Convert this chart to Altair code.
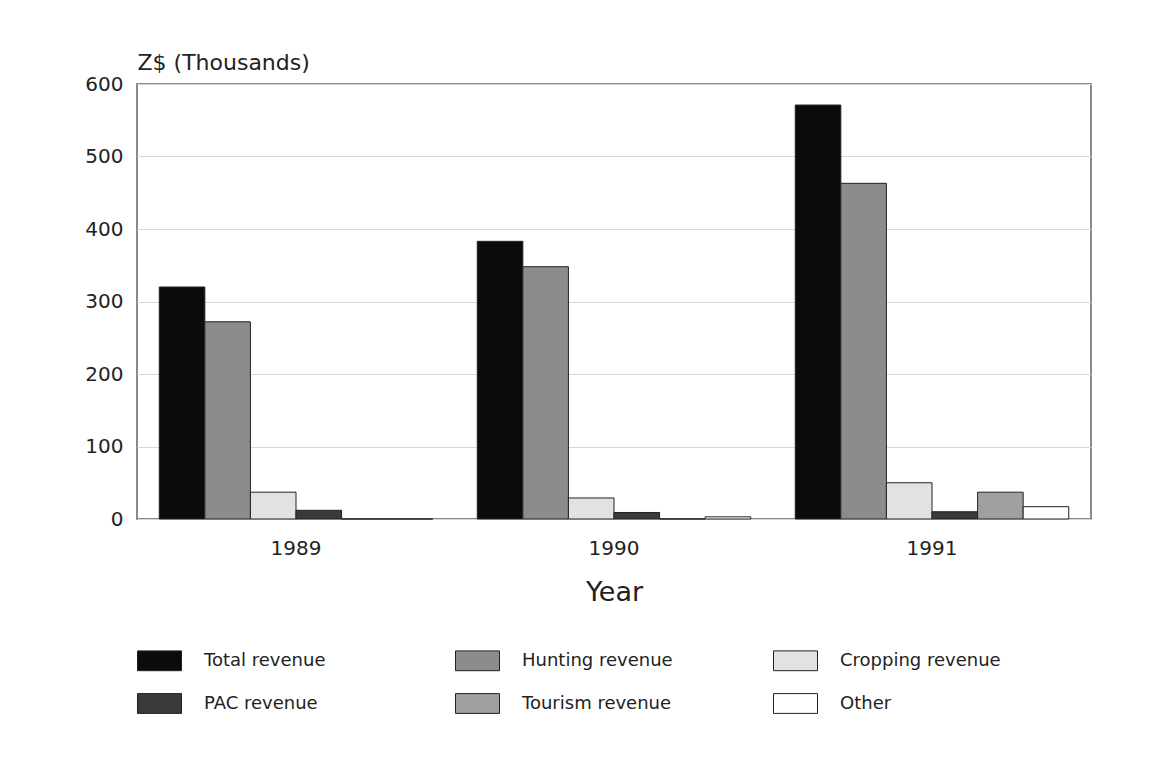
import altair as alt
import pandas as pd

years = ["1989", "1990", "1991"]
series = ["Total revenue", "Hunting revenue", "Cropping revenue",
          "PAC revenue", "Tourism revenue", "Other"]
values = {
    "Total revenue":    [320, 383, 571],
    "Hunting revenue":  [272, 348, 463],
    "Cropping revenue": [37, 29, 50],
    "PAC revenue":      [12, 9, 10],
    "Tourism revenue":  [0, 0, 37],
    "Other":            [0, 3, 17],
}
colors = ["#0b0b0b", "#8c8c8c", "#e2e2e2", "#3a3a3a", "#a0a0a0", "#ffffff"]

rows = []
for s in series:
    for y, v in zip(years, values[s]):
        rows.append({"Year": y, "Series": s, "Value": v})
df = pd.DataFrame(rows)

FONT = "DejaVu Sans"

chart = alt.Chart(df).mark_bar(stroke="#222222", strokeWidth=1).encode(
    x=alt.X("Year:N", sort=years,
            scale=alt.Scale(paddingInner=0.14, paddingOuter=0.07),
            axis=alt.Axis(title="Year", labelAngle=0, ticks=False, domain=False,
                          labelFontSize=20, labelPadding=19, titleFontSize=27,
                          titleFontWeight="normal", titlePadding=21,
                          labelColor="#222", titleColor="#222")),
    xOffset=alt.XOffset("Series:N", sort=series),
    y=alt.Y("Value:Q",
            scale=alt.Scale(domain=[0, 600], nice=False),
            axis=alt.Axis(values=[0, 100, 200, 300, 400, 500, 600],
                          title="Z$ (Thousands)", titleAngle=0, titleAlign="left",
                          titleBaseline="bottom", titleX=0, titleY=-10,
                          titleFontSize=22, titleFontWeight="normal",
                          ticks=False, domain=False, labelFontSize=20,
                          labelPadding=14, gridColor="#d8d8d8", gridWidth=1,
                          labelColor="#222", titleColor="#222")),
    color=alt.Color("Series:N", sort=series,
                    scale=alt.Scale(domain=series, range=colors),
                    legend=alt.Legend(title=None, orient="none", legendX=0, legendY=554,
                                      columns=3, direction="horizontal",
                                      symbolType="M-1,-0.45L1,-0.45L1,0.45L-1,0.45Z",
                                      symbolSize=1936, symbolStrokeColor="#222",
                                      symbolStrokeWidth=1, labelFontSize=18,
                                      labelOffset=22, columnPadding=88,
                                      rowPadding=8, gridAlign="all",
                                      labelColor="#222", labelLimit=300)),
).properties(
    width=954, height=435,
    padding={"left": 76, "top": 43, "right": 10, "bottom": 10},
).configure(font=FONT).configure_view(
    stroke="#8a8a8a", strokeWidth=2
)

chart.save("out.html", embed_options={"renderer": "svg", "actions": False})
